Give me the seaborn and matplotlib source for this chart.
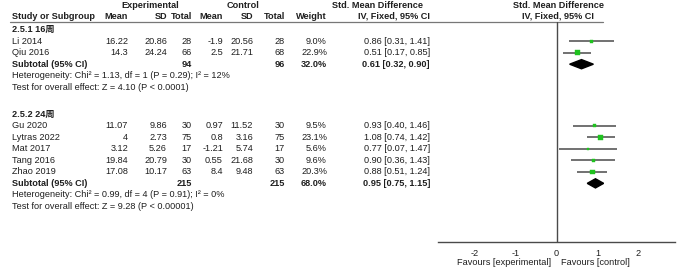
import numpy as np
import pandas as pd
import matplotlib
matplotlib.use("Agg")
import matplotlib.pyplot as plt
import seaborn as sns

# ---------------- data ----------------
g1_title = "2.5.1 16周"
g1_studies = ["Li 2014", "Qiu 2016"]
g1_exp_mean = ["16.22", "14.3"]
g1_exp_sd = ["20.86", "24.24"]
g1_exp_n = [28, 66]
g1_ctl_mean = ["-1.9", "2.5"]
g1_ctl_sd = ["20.56", "21.71"]
g1_ctl_n = [28, 68]
g1_weight = [9.0, 22.9]
g1_smd = [0.86, 0.51]
g1_lo = [0.31, 0.17]
g1_hi = [1.41, 0.85]
g1_sub = dict(n_exp=94, n_ctl=96, weight=32.0, smd=0.61, lo=0.32, hi=0.90)
g1_het = "Heterogeneity: Chi² = 1.13, df = 1 (P = 0.29); I² = 12%"
g1_test = "Test for overall effect: Z = 4.10 (P < 0.0001)"

g2_title = "2.5.2 24周"
g2_studies = ["Gu 2020", "Lytras 2022", "Mat 2017", "Tang 2016", "Zhao 2019"]
g2_exp_mean = ["11.07", "4", "3.12", "19.84", "17.08"]
g2_exp_sd = ["9.86", "2.73", "5.26", "20.79", "10.17"]
g2_exp_n = [30, 75, 17, 30, 63]
g2_ctl_mean = ["0.97", "0.8", "-1.21", "0.55", "8.4"]
g2_ctl_sd = ["11.52", "3.16", "5.74", "21.68", "9.48"]
g2_ctl_n = [30, 75, 17, 30, 63]
g2_weight = [9.5, 23.1, 5.6, 9.6, 20.3]
g2_smd = [0.93, 1.08, 0.77, 0.90, 0.88]
g2_lo = [0.40, 0.74, 0.07, 0.36, 0.51]
g2_hi = [1.46, 1.42, 1.47, 1.43, 1.24]
g2_sub = dict(n_exp=215, n_ctl=215, weight=68.0, smd=0.95, lo=0.75, hi=1.15)
g2_het = "Heterogeneity: Chi² = 0.99, df = 4 (P = 0.91); I² = 0%"
g2_test = "Test for overall effect: Z = 9.28 (P < 0.00001)"

x_ticks = [-2, -1, 0, 1, 2]
fav_left = "Favours [experimental]"
fav_right = "Favours [control]"

# ---------------- style ----------------
sns.set_style("white")
plt.rcParams["font.family"] = ["Liberation Sans", "Noto Sans CJK SC", "DejaVu Sans"]
FS = 6.6
TXT = "#1f1f1f"
GREEN = "#1fc21f"
LINE = "#4a4a4a"

W, H = 685, 270
fig = plt.figure(figsize=(W / 100, H / 100), dpi=100)
fig.patch.set_facecolor("white")

ax_t = fig.add_axes([0, 0, 1, 1])
ax_t.set_xlim(0, W)
ax_t.set_ylim(H, 0)
ax_t.axis("off")

# column anchors (pixels)
X_STUDY = 12
X_EM, X_ESD, X_EN = 128, 167, 192
X_CM, X_CSD, X_CN = 223, 253, 285
X_W = 327
X_CI = 430

def txt(x, y, s, ha="left", bold=False, **kw):
    ax_t.text(x, y, s, ha=ha, va="center", fontsize=FS, color=TXT,
              fontweight="bold" if bold else "normal", **kw)

# header
Y_H1, Y_H2, Y_RULE = 5.5, 16.5, 21.5
txt(150, Y_H1, "Experimental", ha="center", bold=True)
txt(243, Y_H1, "Control", ha="center", bold=True)
txt(423, Y_H1, "Std. Mean Difference", ha="right", bold=True)
txt(430, Y_H2, "IV, Fixed, 95% CI", ha="right", bold=True)
txt(559, Y_H1, "Std. Mean Difference", ha="center", bold=True)
txt(558, Y_H2, "IV, Fixed, 95% CI", ha="center", bold=True)
txt(X_STUDY, Y_H2, "Study or Subgroup", bold=True)
for x, s in [(X_EM, "Mean"), (X_ESD, "SD"), (X_EN, "Total"), (X_CM, "Mean"),
             (X_CSD, "SD"), (X_CN, "Total"), (X_W, "Weight")]:
    txt(x, Y_H2, s, ha="right", bold=True)
ax_t.plot([10, 603], [Y_RULE, Y_RULE], color="#777777", lw=0.9)

STEP = 11.55

# forest axes
AX_L, AX_R, AX_TOP, AX_BOT = 438, 675, 21.5, 242.3
ax_f = fig.add_axes([AX_L / W, (H - AX_BOT) / H, (AX_R - AX_L) / W, (AX_BOT - AX_TOP) / H])
ax_f.set_facecolor("none")
XL = 2.89
ax_f.set_xlim(-XL, XL)
ax_f.set_ylim(AX_BOT, AX_TOP)
for sp in ["top", "left", "right"]:
    ax_f.spines[sp].set_visible(False)
ax_f.spines["bottom"].set_color(LINE)
ax_f.spines["bottom"].set_linewidth(1.0)
ax_f.set_yticks([])
ax_f.set_xticks(x_ticks)
ax_f.set_xticklabels([str(t) for t in x_ticks], fontsize=FS, color=TXT)
ax_f.tick_params(axis="x", direction="inout", length=6.5, width=0.9, color=LINE, pad=1.5)
ax_f.axvline(0, color=LINE, lw=1.0)

def draw_group(y0, title, studies, em, esd, en, cm, csd, cn, w, smd, lo, hi, sub, het, test):
    txt(X_STUDY, y0, title, bold=True)
    ys = [y0 + 11.6 + STEP * i for i in range(len(studies))]
    for i, y in enumerate(ys):
        txt(X_STUDY, y, studies[i])
        txt(X_EM, y, em[i], ha="right")
        txt(X_ESD, y, esd[i], ha="right")
        txt(X_EN, y, str(en[i]), ha="right")
        txt(X_CM, y, cm[i], ha="right")
        txt(X_CSD, y, csd[i], ha="right")
        txt(X_CN, y, str(cn[i]), ha="right")
        txt(X_W, y, f"{w[i]:.1f}%", ha="right")
        txt(X_CI, y, f"{smd[i]:.2f} [{lo[i]:.2f}, {hi[i]:.2f}]", ha="right")
    ax_f.hlines(ys, lo, hi, color=LINE, lw=1.1, zorder=2)
    df = pd.DataFrame({"smd": smd, "y": ys, "w": w})
    sns.scatterplot(data=df, x="smd", y="y", size="w", sizes=(0, 52), size_norm=(0, 100),
                    marker="s", color=GREEN, edgecolor=GREEN, linewidth=0.3,
                    legend=False, ax=ax_f, zorder=3)
    ys_sub = ys[-1] + STEP
    txt(X_STUDY, ys_sub, "Subtotal (95% CI)", bold=True)
    txt(X_EN, ys_sub, str(sub["n_exp"]), ha="right", bold=True)
    txt(X_CN, ys_sub, str(sub["n_ctl"]), ha="right", bold=True)
    txt(X_W, ys_sub, f"{sub['weight']:.1f}%", ha="right", bold=True)
    txt(X_CI, ys_sub, f"{sub['smd']:.2f} [{sub['lo']:.2f}, {sub['hi']:.2f}]", ha="right", bold=True)
    hh = 4.6
    ax_f.fill([sub["lo"], sub["smd"], sub["hi"], sub["smd"]],
              [ys_sub, ys_sub - hh, ys_sub, ys_sub + hh], color="black", zorder=3)
    txt(X_STUDY, ys_sub + STEP, het)
    txt(X_STUDY, ys_sub + 2 * STEP, test)

draw_group(29.5, g1_title, g1_studies, g1_exp_mean, g1_exp_sd, g1_exp_n, g1_ctl_mean,
           g1_ctl_sd, g1_ctl_n, g1_weight, g1_smd, g1_lo, g1_hi, g1_sub, g1_het, g1_test)
draw_group(114.0, g2_title, g2_studies, g2_exp_mean, g2_exp_sd, g2_exp_n, g2_ctl_mean,
           g2_ctl_sd, g2_ctl_n, g2_weight, g2_smd, g2_lo, g2_hi, g2_sub, g2_het, g2_test)

ax_f.set_xlabel("")
ax_f.set_ylabel("")

txt(551, 262.5, fav_left, ha="right")
txt(561, 262.5, fav_right, ha="left")

fig.savefig("out.png", dpi=100, facecolor="white")
